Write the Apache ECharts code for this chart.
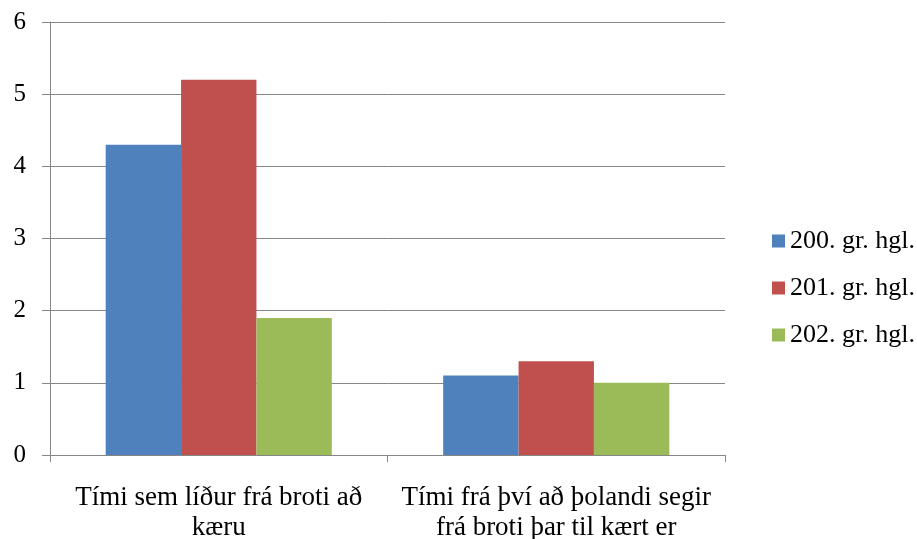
<!DOCTYPE html>
<html lang="is">
<head>
    <meta charset="UTF-8">
    <title>Tími</title>
    <script src="https://cdn.jsdelivr.net/npm/echarts@6/dist/echarts.min.js"></script>
</head>
<body style="margin:0;">
<div id="main" style="height:539px;width:917px;"></div>
<script>

var categories = ['Tími sem líður frá broti að\nkæru', 'Tími frá því að þolandi segir\nfrá broti þar til kært er'];
var seriesNames = ['200. gr. hgl.', '201. gr. hgl.', '202. gr. hgl.'];
var values200 = [4.3, 1.1];
var values201 = [5.2, 1.3];
var values202 = [1.9, 1.0];

var myChart = echarts.init(document.getElementById('main'));
var font = '"Liberation Serif", "Times New Roman", serif';

var option = {
    color: ['#4f81bd', '#c0504d', '#9bbb59'],
    textStyle: {fontFamily: font},
    legend: {
        orient: 'vertical',
        left: 767,
        top: 223,
        itemWidth: 13,
        itemHeight: 13,
        itemGap: 21,
        icon: 'rect',
        data: seriesNames,
        textStyle: {fontFamily: font, fontSize: 26, color: '#000'}
    },
    grid: {
        left: 50,
        right: 192,
        top: 22,
        bottom: 84,
        outerBoundsMode: 'none'
    },
    xAxis: {
        type: 'category',
        data: categories,
        axisLine: {lineStyle: {color: '#868686', width: 1}},
        axisTick: {show: true, length: 7, lineStyle: {color: '#868686'}},
        axisLabel: {
            fontFamily: font, fontSize: 27, color: '#000',
            margin: 28, lineHeight: 30, interval: 0
        }
    },
    yAxis: {
        type: 'value',
        min: 0,
        max: 6,
        interval: 1,
        axisLine: {show: true, lineStyle: {color: '#868686', width: 1}},
        axisTick: {show: true, length: 8, lineStyle: {color: '#868686'}},
        splitLine: {lineStyle: {color: '#868686', width: 1}},
        axisLabel: {fontFamily: font, fontSize: 25, color: '#000', margin: 24}
    },
    series: [
        {name: seriesNames[0], type: 'bar', data: values200, barGap: '0%', barCategoryGap: '33%'},
        {name: seriesNames[1], type: 'bar', data: values201, barGap: '0%', barCategoryGap: '33%'},
        {name: seriesNames[2], type: 'bar', data: values202, barGap: '0%', barCategoryGap: '33%'}
    ]
};

myChart.setOption(option);
</script>
</body>
</html>
